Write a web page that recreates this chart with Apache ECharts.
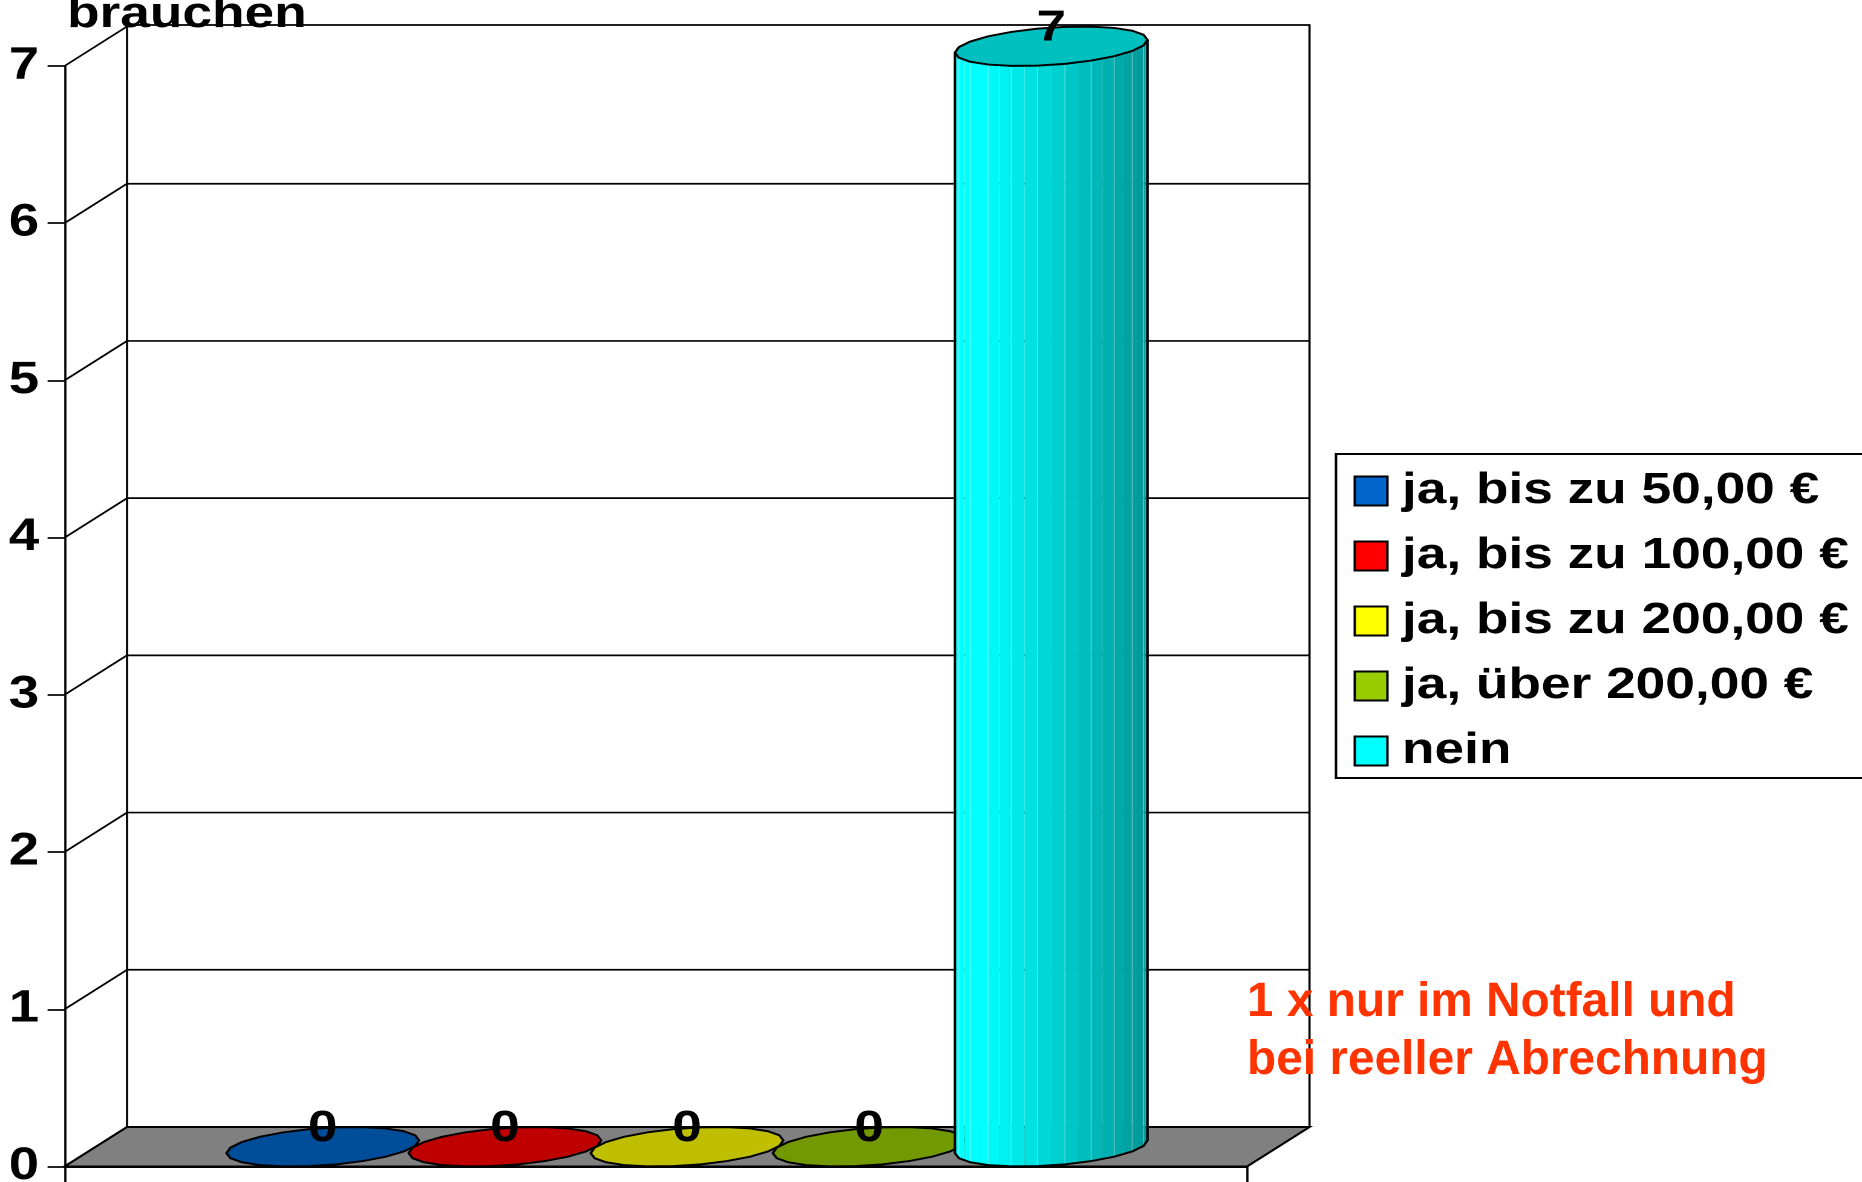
<!DOCTYPE html>
<html><head><meta charset="utf-8">
<style>html,body{margin:0;padding:0;background:#fff;overflow:hidden;width:1862px;height:1182px}
#c{position:absolute;left:0;top:0;width:1539px;height:1182px;transform-origin:0 0;transform:scaleX(1.20988)}</style>
<script src="https://cdn.jsdelivr.net/npm/echarts@6/dist/echarts.min.js"></script></head>
<body><div id="c"></div>
<script>
const titleTail = 'brauchen';
const categories = ['ja, bis zu 50,00 €','ja, bis zu 100,00 €','ja, bis zu 200,00 €','ja, über 200,00 €','nein'];
const values = [0,0,0,0,7];
const colors = ['#0066CC','#FF0000','#FFFF00','#99CC00','#00FFFF'];
const yTicks = [0,1,2,3,4,5,6,7];
const note = '1 x nur im Notfall und\nbei reeller Abrechnung';

const SX = 1862/1539, FONT = '"Liberation Sans", Arial, sans-serif';
const DX = 62.5/SX, DY = -39.5, SEGS = 11, SHARE = 0.77;
const X = v => v/SX;
function scale(hex,k){const n=parseInt(hex.slice(1),16);return `rgb(${Math.round((n>>16&255)*k)},${Math.round((n>>8&255)*k)},${Math.round((n&255)*k)})`;}
const lerp=(p,q,u)=>[p[0]+(q[0]-p[0])*u,p[1]+(q[1]-p[1])*u];

function renderWall(params,api){
  const a=api.coord([0,0]), top=api.coord([0,api.value(1)]), w=api.size([1,0])[0];
  const L=a[0]-w/2, R=a[0]+w/2, y0=a[1], y7=top[1];
  return {type:'group',children:[
    {type:'polygon',shape:{points:[[L,y0],[R,y0],[R+DX,y0+DY],[L+DX,y0+DY]]},style:{fill:'#808080',stroke:'#000',lineWidth:2}},
    {type:'polyline',shape:{points:[[L+DX,y0+DY],[L+DX,y7+DY-1.5],[R+DX,y7+DY-1.5],[R+DX,y0+DY]]},style:{stroke:'#000',lineWidth:1.8,fill:null}}
  ]};
}
function renderGrid(params,api){
  const a=api.coord([0,api.value(1)]), w=api.size([1,0])[0];
  const L=a[0]-w/2, R=a[0]+w/2, y=a[1];
  const line={stroke:'#000',lineWidth:1.7,fill:null};
  const kids=[{type:'line',shape:{x1:L,y1:y,x2:L+DX,y2:y+DY},style:line}];
  if(api.value(1)>0&&api.value(1)<7) kids.push({type:'line',shape:{x1:L+DX,y1:y+DY,x2:R+DX,y2:y+DY},style:line});
  return {type:'group',children:kids};
}
function renderCyl(idx){return function(params,api){
  const v=api.value(1), band=api.size([1,0])[0], slot=band*SHARE/categories.length;
  const c0=api.coord([0,0]), c1=api.coord([0,v]);
  const cx=c0[0]+(idx-(categories.length-1)/2)*slot+DX/2, by=c0[1]+DY/2, ty=c1[1]+DY/2;
  const a=slot/2, hx=DX/2, hy=DY/2, th0=Math.atan2(hx,a);
  const P=(t,y)=>[cx+a*Math.cos(t)+hx*Math.sin(t), y+hy*Math.sin(t)];
  const kids=[], col=colors[idx], xr=Math.hypot(a,hx);
  const lo=th0+Math.PI, step=Math.PI/SEGS, SUB=2;
  if(v>0){
    const dy=ty-by;
    for(let i=0;i<SEGS;i++){
      const A=P(lo+i*step,by),B=P(lo+(i+1)*step,by);
      for(let s=0;s<SUB;s++){
        const p1=lerp(A,B,s/SUB),p2=lerp(A,B,(s+1)/SUB);
        const f=((p1[0]+p2[0])/2-(cx-xr))/(2*xr);
        const k=f<0.15?1:1-(f-0.15)*0.486;
        kids.push({type:'polygon',shape:{points:[p1,p2,[p2[0],p2[1]+dy],[p1[0],p1[1]+dy]]},style:{fill:scale(col,k),stroke:null}});
      }
      if(i>0) kids.push({type:'line',shape:{x1:A[0],y1:A[1],x2:A[0],y2:A[1]+dy},style:{stroke:'rgba(255,255,255,0.3)',lineWidth:0.9}});
    }
    const outline=[];
    for(let i=0;i<=SEGS;i++)outline.push(P(lo+i*step,by));
    outline.push(P(lo+SEGS*step,ty));outline.unshift(P(lo,ty));
    kids.push({type:'polyline',shape:{points:outline},style:{stroke:'#000',lineWidth:2,fill:null}});
  }
  const cap=[];for(let i=0;i<2*SEGS;i++)cap.push(P(lo+i*step,ty));
  kids.push({type:'polygon',shape:{points:cap},style:{fill:scale(col,0.75),stroke:'#000',lineWidth:2}});
  kids.push({type:'text',x:cx,y:ty-18,z2:50,style:{text:String(v),fill:'#000',font:'bold 44px '+FONT,align:'center',verticalAlign:'middle'}});
  return {type:'group',children:kids};
};}

const chart=echarts.init(document.getElementById('c'),null,{devicePixelRatio:2});
chart.setOption({
  animation:false,
  backgroundColor:'#fff',
  title:{text:titleTail,left:X(61),top:-12,z:20,textStyle:{color:'#000',fontFamily:FONT,fontSize:44,fontWeight:'bold'}},
  grid:{left:X(64.5),top:66,width:X(1182.5),height:1100.5,outerBoundsMode:'none'},
  xAxis:{type:'category',data:[''],axisLabel:{show:false},splitLine:{show:false},
    axisLine:{lineStyle:{color:'#000',width:2}},axisTick:{show:true,length:20,lineStyle:{color:'#000',width:1.8}}},
  yAxis:{type:'value',min:0,max:7,interval:1,splitLine:{show:false},
    axisLine:{show:true,lineStyle:{color:'#000',width:1.8}},
    axisTick:{show:true,length:14,lineStyle:{color:'#000',width:1.7}},
    axisLabel:{margin:21,color:'#000',fontFamily:FONT,fontSize:45,fontWeight:'bold',padding:[5,0,0,0]}},
  legend:{orient:'vertical',data:categories,left:X(1336),top:454,padding:[15,15,5,14.5],itemWidth:27,itemHeight:29,itemGap:21,
    selectedMode:false,backgroundColor:'#fff',borderColor:'#000',borderWidth:2,icon:'rect',
    textStyle:{color:'#000',fontFamily:FONT,fontSize:44,fontWeight:'bold',padding:[4,0,0,7]}},
  graphic:[{type:'text',left:1247/SX,top:974,scaleX:1/SX,z:30,style:{text:note,fill:'#FF3300',font:'bold 47.8px '+FONT,lineHeight:58}}],
  series:[
    {type:'custom',name:'_wall',z:1,silent:true,data:[[0,yTicks[yTicks.length-1]]],renderItem:renderWall},
    {type:'custom',name:'_grid',z:2,silent:true,data:yTicks.map(t=>[0,t]),renderItem:renderGrid},
    ...categories.map((n,i)=>({type:'custom',name:n,z:3+i,silent:true,itemStyle:{color:colors[i],borderColor:'#000',borderWidth:2},
      data:[[0,values[i]]],renderItem:renderCyl(i)}))
  ]
});
</script></body></html>
